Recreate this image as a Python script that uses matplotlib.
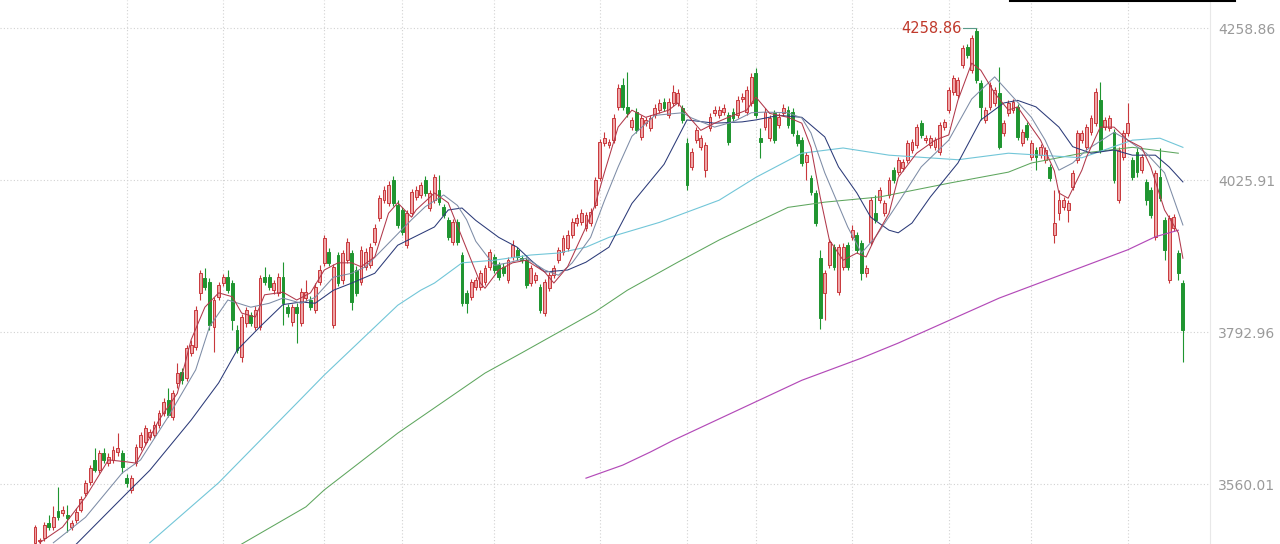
import matplotlib
matplotlib.use("Agg")
import matplotlib.pyplot as plt
import numpy as np
from matplotlib.lines import Line2D

# daily candles (index 0 = leftmost candle)
opens = [
    3470, 3473, 3477, 3500, 3494, 3519, 3516, 3512, 3494, 3505,
    3520, 3546, 3563, 3597, 3581, 3607, 3592, 3597, 3609, 3607,
    3569, 3551, 3592, 3617, 3624, 3632, 3635, 3650, 3669, 3689,
    3663, 3715, 3732, 3723, 3761, 3770, 3853, 3876, 3870, 3801,
    3847, 3868, 3877, 3868, 3796, 3755, 3807, 3819, 3801, 3801,
    3877, 3877, 3857, 3853, 3877, 3831, 3808, 3831, 3807, 3845,
    3842, 3827, 3870, 3899, 3916, 3804, 3911, 3873, 3903, 3914,
    3888, 3870, 3893, 3896, 3931, 3968, 3995, 3991, 4026, 3988,
    3980, 3926, 3975, 4000, 4003, 4026, 3983, 3995, 4011, 3985,
    3965, 3931, 3962, 3911, 3853, 3847, 3862, 3862, 3870, 3893,
    3908, 3896, 3893, 3873, 3908, 3919, 3906, 3903, 3868, 3873,
    3862, 3822, 3860, 3880, 3903, 3916, 3922, 3942, 3960, 3962,
    3952, 3960, 3988, 4029, 4083, 4080, 4087, 4138, 4172, 4138,
    4107, 4130, 4092, 4113, 4106, 4126, 4133, 4145, 4126, 4144,
    4144, 4136, 4083, 4046, 4087, 4077, 4041, 4106, 4128, 4126,
    4130, 4125, 4130, 4125, 4150, 4130, 4144, 4190, 4090, 4107,
    4090, 4129, 4110, 4129, 4133, 4130, 4095, 4087, 4054, 4029,
    4006, 3906, 3853, 3896, 3923, 3854, 3893, 3926, 3938, 3942,
    3929, 3883, 3931, 3975, 3995, 3975, 4003, 4041, 4038, 4044,
    4057, 4072, 4080, 4113, 4087, 4080, 4077, 4069, 4107, 4133,
    4161, 4156, 4202, 4230, 4194, 4254, 4175, 4118, 4138, 4144,
    4159, 4098, 4129, 4133, 4138, 4083, 4110, 4061, 4072, 4064,
    4057, 4046, 3942, 3975, 3985, 3980, 4015, 4057, 4087, 4077,
    4099, 4113, 4148, 4107, 4106, 4099, 3995, 4061, 4098, 4057,
    4069, 4041, 4023, 4011, 3938, 4030, 3965, 3873, 3952, 3914,
    3868]
closes = [
    3494, 3474, 3497, 3494, 3509, 3509, 3520, 3508, 3500, 3517,
    3537, 3562, 3584, 3581, 3607, 3597, 3601, 3612, 3615, 3586,
    3561, 3569, 3617, 3635, 3646, 3640, 3650, 3669, 3686, 3666,
    3700, 3730, 3719, 3768, 3773, 3827, 3883, 3862, 3804, 3842,
    3865, 3877, 3857, 3811, 3765, 3816, 3827, 3807, 3827, 3876,
    3870, 3862, 3868, 3877, 3837, 3822, 3831, 3822, 3854, 3854,
    3831, 3862, 3888, 3937, 3899, 3893, 3868, 3914, 3931, 3839,
    3853, 3919, 3916, 3923, 3952, 3998, 4011, 4018, 3991, 3957,
    3946, 3975, 4008, 4011, 4018, 4006, 4006, 4031, 3992, 3972,
    3939, 3962, 3931, 3837, 3837, 3870, 3873, 3883, 3891, 3916,
    3888, 3877, 3883, 3903, 3926, 3908, 3903, 3865, 3891, 3880,
    3827, 3870, 3880, 3891, 3919, 3937, 3942, 3962, 3968, 3975,
    3972, 3977, 4026, 4084, 4090, 4084, 4121, 4167, 4138, 4129,
    4118, 4103, 4121, 4118, 4121, 4136, 4144, 4136, 4145, 4161,
    4159, 4118, 4018, 4069, 4103, 4090, 4080, 4122, 4133, 4133,
    4136, 4084, 4121, 4148, 4153, 4164, 4184, 4125, 4084, 4130,
    4121, 4087, 4122, 4136, 4110, 4098, 4083, 4052, 4064, 4008,
    3960, 3814, 3883, 3931, 3893, 3923, 3923, 3893, 3949, 3919,
    3883, 3891, 3995, 3965, 4011, 3991, 4026, 4026, 4057, 4054,
    4083, 4084, 4107, 4095, 4090, 4090, 4087, 4110, 4115, 4164,
    4182, 4179, 4228, 4217, 4244, 4179, 4138, 4133, 4172, 4164,
    4076, 4113, 4144, 4145, 4092, 4099, 4092, 4083, 4061, 4076,
    4072, 4029, 3960, 3995, 3995, 3991, 4037, 4098, 4098, 4107,
    4121, 4161, 4072, 4118, 4121, 4026, 4072, 4098, 4113, 4030,
    4038, 4061, 3995, 3972, 4036, 3998, 3919, 3968, 3969, 3883,
    3796]
highs = [
    3497, 3477, 3502, 3512, 3526, 3555, 3526, 3528, 3505, 3523,
    3542, 3566, 3589, 3615, 3612, 3615, 3607, 3618, 3638, 3612,
    3575, 3574, 3621, 3640, 3650, 3644, 3657, 3673, 3692, 3707,
    3704, 3745, 3738, 3773, 3781, 3833, 3888, 3891, 3876, 3847,
    3870, 3882, 3888, 3873, 3804, 3821, 3831, 3824, 3833, 3880,
    3893, 3882, 3873, 3883, 3900, 3836, 3836, 3837, 3860, 3873,
    3848, 3868, 3896, 3942, 3922, 3897, 3916, 3919, 3937, 3919,
    3894, 3925, 3922, 3929, 3958, 4003, 4017, 4024, 4032, 3995,
    3985, 3980, 4012, 4017, 4023, 4032, 4011, 4035, 4034, 3989,
    3969, 3966, 3966, 3916, 3857, 3874, 3877, 3888, 3896, 3920,
    3912, 3900, 3899, 3908, 3934, 3923, 3911, 3908, 3896, 3885,
    3867, 3874, 3885, 3896, 3923, 3942, 3949, 3968, 3974, 3981,
    3977, 3983, 4031, 4089, 4100, 4089, 4127, 4173, 4182, 4191,
    4122, 4136, 4126, 4122, 4126, 4142, 4150, 4152, 4152, 4171,
    4165, 4141, 4090, 4075, 4107, 4095, 4084, 4128, 4139, 4139,
    4142, 4130, 4136, 4155, 4159, 4170, 4190, 4198, 4106, 4136,
    4126, 4133, 4128, 4142, 4139, 4136, 4102, 4092, 4069, 4034,
    4011, 3919, 3888, 3935, 3928, 3928, 3929, 3931, 3957, 3946,
    3934, 3896, 4000, 4003, 4015, 3995, 4031, 4046, 4061, 4058,
    4087, 4089, 4112, 4118, 4095, 4095, 4092, 4115, 4119, 4168,
    4187, 4184, 4233, 4234, 4248, 4258.86, 4179, 4138, 4176, 4168,
    4199, 4118, 4148, 4150, 4142, 4104, 4115, 4087, 4076, 4081,
    4076, 4050, 4011, 4011, 4000, 3995, 4041, 4102, 4102, 4112,
    4126, 4167, 4176, 4122, 4126, 4104, 4076, 4102, 4144, 4061,
    4075, 4066, 4027, 4015, 4041, 4075, 3969, 3972, 3974, 3919,
    3873]
lows = [
    3468, 3468, 3473, 3490, 3490, 3505, 3511, 3486, 3490, 3500,
    3517, 3542, 3558, 3578, 3577, 3592, 3588, 3592, 3603, 3577,
    3555, 3546, 3588, 3612, 3620, 3627, 3631, 3646, 3664, 3663,
    3658, 3707, 3713, 3718, 3756, 3765, 3842, 3857, 3796, 3762,
    3842, 3863, 3853, 3796, 3761, 3747, 3801, 3802, 3796, 3796,
    3865, 3857, 3851, 3848, 3804, 3816, 3802, 3776, 3802, 3840,
    3827, 3822, 3865, 3894, 3894, 3799, 3863, 3867, 3899, 3827,
    3848, 3865, 3888, 3891, 3926, 3963, 3991, 3986, 3986, 3952,
    3942, 3922, 3971, 3995, 3998, 4001, 3978, 3991, 3988, 3968,
    3934, 3926, 3926, 3833, 3822, 3842, 3857, 3857, 3865, 3888,
    3883, 3873, 3879, 3868, 3903, 3903, 3899, 3860, 3863, 3868,
    3822, 3817, 3856, 3876, 3899, 3911, 3917, 3937, 3955, 3957,
    3948, 3955, 3983, 4024, 4078, 4075, 4083, 4133, 4133, 4122,
    4103, 4098, 4087, 4109, 4101, 4121, 4129, 4132, 4121, 4139,
    4139, 4113, 4011, 4041, 4083, 4072, 4030, 4101, 4124, 4121,
    4125, 4080, 4116, 4121, 4145, 4125, 4139, 4121, 4060, 4103,
    4086, 4083, 4106, 4124, 4105, 4093, 4078, 4047, 4026, 4003,
    3955, 3798, 3811, 3891, 3888, 3850, 3888, 3888, 3934, 3914,
    3873, 3877, 3926, 3960, 3991, 3971, 3998, 4021, 4034, 4040,
    4052, 4067, 4075, 4090, 4083, 4075, 4072, 4064, 4102, 4129,
    4156, 4152, 4198, 4213, 4190, 4175, 4118, 4113, 4133, 4139,
    4073, 4093, 4124, 4129, 4087, 4078, 4087, 4057, 4041, 4060,
    4052, 4024, 3929, 3965, 3980, 3961, 4011, 4052, 4083, 4072,
    4095, 4109, 4067, 4102, 4101, 4021, 3991, 4057, 4093, 4026,
    4030, 4036, 3988, 3968, 3934, 3994, 3903, 3868, 3948, 3873,
    3747]

# moving averages, sampled along each line (candle index, value)
ma5_idx = [1, 6, 11, 16, 20, 22, 27, 31, 34, 37, 40, 43, 45, 48, 50, 54, 57, 60,
           63, 66, 69, 71, 74, 77, 79, 82, 83, 87, 90, 93, 97, 98, 101, 104, 107,
           111, 113, 116, 120, 122, 124, 127, 130, 133, 138, 140, 143, 145, 148,
           151, 155, 157, 160, 164, 167, 169, 171, 173, 176, 179, 181, 183, 186,
           188, 192, 196, 199, 201, 204, 206, 209, 212, 214, 217, 219, 222, 223,
           225, 228, 229, 232, 235, 238, 241, 243, 246, 249, 250]
ma5_val = [3470, 3494, 3540, 3597, 3594, 3592, 3658, 3699, 3781, 3831, 3853, 3847,
           3822, 3816, 3850, 3854, 3842, 3853, 3888, 3899, 3899, 3893, 3908, 3975,
           3991, 3969, 3980, 4006, 3991, 3938, 3868, 3860, 3888, 3899, 3903, 3885,
           3868, 3893, 3954, 3988, 4037, 4107, 4133, 4122, 4133, 4144, 4118, 4102,
           4113, 4122, 4133, 4153, 4128, 4122, 4113, 4076, 4000, 3934, 3903, 3914,
           3908, 3938, 3975, 4030, 4067, 4087, 4095, 4148, 4205, 4194, 4159, 4133,
           4138, 4107, 4087, 4040, 4006, 3998, 4041, 4061, 4107, 4107, 4087, 4076,
           4046, 3980, 3945, 3906]
ma10_idx = [4, 11, 19, 23, 29, 35, 38, 42, 47, 51, 54, 58, 61, 65, 69, 72, 77, 82,
            85, 89, 92, 94, 96, 100, 103, 107, 111, 114, 117, 121, 124, 127, 130,
            135, 141, 143, 148, 152, 156, 159, 164, 167, 169, 172, 177, 180, 183,
            188, 193, 199, 204, 209, 213, 217, 220, 223, 226, 229, 235, 238, 242,
            246, 250]
ma10_val = [3470, 3509, 3577, 3597, 3663, 3735, 3801, 3842, 3831, 3837, 3845, 3837,
            3846, 3877, 3883, 3893, 3929, 3965, 3985, 4003, 3987, 3965, 3932, 3895,
            3899, 3906, 3888, 3880, 3899, 3938, 3994, 4046, 4093, 4125, 4129, 4121,
            4107, 4115, 4129, 4130, 4129, 4121, 4098, 4037, 3954, 3914, 3938, 3991,
            4046, 4087, 4150, 4184, 4153, 4122, 4087, 4041, 4052, 4072, 4099, 4087,
            4067, 4037, 3957]
ma20_idx = [9, 20, 25, 34, 40, 44, 49, 54, 58, 61, 65, 69, 74, 79, 87, 90, 93, 96,
            101, 105, 108, 111, 116, 120, 125, 130, 137, 142, 148, 154, 157, 162,
            167, 172, 175, 179, 182, 186, 188, 191, 195, 201, 206, 211, 214, 218,
            223, 226, 230, 235, 239, 244, 247, 250]
ma20_val = [3468, 3546, 3581, 3658, 3715, 3765, 3801, 3835, 3839, 3837, 3857, 3868,
            3883, 3926, 3954, 3980, 3983, 3964, 3938, 3923, 3903, 3885, 3888, 3900,
            3923, 3990, 4050, 4118, 4113, 4115, 4118, 4125, 4122, 4092, 4046, 4006,
            3969, 3949, 3945, 3960, 4000, 4052, 4118, 4144, 4148, 4138, 4107, 4077,
            4067, 4072, 4064, 4064, 4046, 4023]
ma60_idx = [25, 40, 58, 63, 79, 84, 87, 93, 100, 108, 114, 120, 125, 136, 149, 157,
            167, 176, 186, 201, 212, 228, 239, 245, 250]
ma60_val = [3470, 3562, 3691, 3727, 3834, 3857, 3868, 3899, 3903, 3911, 3914, 3923,
            3938, 3961, 3995, 4030, 4067, 4075, 4064, 4057, 4067, 4060, 4087, 4090,
            4076]
ma120_idx = [45, 59, 63, 79, 98, 106, 122, 129, 140, 149, 164, 172, 184, 199, 212,
             217, 228, 239, 249]
ma120_val = [3468, 3525, 3551, 3638, 3730, 3761, 3824, 3857, 3900, 3934, 3984, 3992,
             4000, 4021, 4038, 4052, 4067, 4076, 4067]
ma250_idx = [120, 128, 134, 139, 167, 180, 188, 210, 238, 244, 249]
ma250_val = [3569, 3589, 3609, 3627, 3719, 3753, 3776, 3845, 3919, 3939, 3949]

month_starts = [20, 41, 63, 80, 100, 123, 142, 157, 178, 199, 217, 238]
price_ticks = [3560.01, 3792.96, 4025.91, 4258.86]
peak_idx = 205
peak_label = "4258.86"

UP_EDGE = "#c8383c"
UP_FACE = "#eea4a6"
DOWN = "#1f9530"

fig = plt.figure(figsize=(12.8, 5.44), dpi=100)
ax = fig.add_axes([0, 0, 1210 / 1280, 1])

o = np.array(opens, dtype=float)
c = np.array(closes, dtype=float)
h = np.array(highs, dtype=float)
l = np.array(lows, dtype=float)
x = np.arange(len(c))
up = c >= o

ax.vlines(x[up], l[up], h[up], color=UP_EDGE, lw=0.8, zorder=3)
ax.vlines(x[~up], l[~up], h[~up], color=DOWN, lw=0.8, zorder=3)
ax.bar(x[up], (c - o)[up], bottom=o[up], width=0.62, facecolor=UP_FACE,
       edgecolor=UP_EDGE, linewidth=0.7, zorder=4)
ax.bar(x[~up], (o - c)[~up], bottom=c[~up], width=0.62, facecolor=DOWN,
       edgecolor=DOWN, linewidth=0.7, zorder=4)

ax.plot(ma250_idx, ma250_val, color="#b34ab8", lw=0.85, zorder=5)
ax.plot(ma120_idx, ma120_val, color="#5ea65e", lw=0.75, zorder=5)
ax.plot(ma60_idx, ma60_val, color="#72c6d8", lw=0.8, zorder=5)
ax.plot(ma20_idx, ma20_val, color="#2b3a78", lw=0.75, zorder=5)
ax.plot(ma10_idx, ma10_val, color="#7d8ca6", lw=0.75, zorder=5)
ax.plot(ma5_idx, ma5_val, color="#b0384a", lw=0.75, zorder=6)

# peak label
ax.text(peak_idx - 3.1, highs[peak_idx], peak_label, ha="right", va="center",
        color="#c0392b", fontsize=10.5, zorder=7)
ax.plot([peak_idx - 2.8, peak_idx], [highs[peak_idx]] * 2, color="#5a9a8a",
        lw=0.8, zorder=7)

ax.set_xlim(-7.62, 255.9)
ax.set_ylim(3468.1, 4301.8)
ax.set_xticks(month_starts)
ax.set_yticks(price_ticks)
ax.set_yticklabels([f"{v:.2f}" for v in price_ticks])
ax.yaxis.tick_right()
ax.tick_params(axis="x", length=0, labelbottom=False)
ax.tick_params(axis="y", length=0, pad=6, labelsize=10, labelcolor="#9a9a9a")
ax.grid(True, linestyle=(0, (1, 2)), color="#d2d2d2", linewidth=0.8)
ax.set_axisbelow(True)
for side in ["top", "bottom", "left"]:
    ax.spines[side].set_visible(False)
ax.spines["right"].set_color("#e8e8e8")
ax.spines["right"].set_linewidth(0.8)

fig.add_artist(Line2D([1010 / 1280, 1235 / 1280], [0.998, 0.998],
                      color="black", lw=1.5))

fig.savefig("out.png", dpi=100)
